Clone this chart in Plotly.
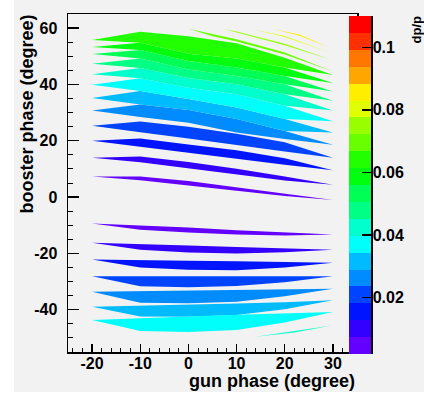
import plotly.graph_objects as go

# ---------------- data ----------------
Z_MIN, Z_MAX, N_LEVELS = 0.002, 0.110, 20

palette = ["#6300ff", "#3300ff", "#0014ff", "#0044ff", "#008bff",
           "#00bbff", "#00fffb", "#00ffcc", "#00ff85", "#00ff55",
           "#00ff0e", "#22ff00", "#69ff00", "#99ff00", "#e0ff00",
           "#ffee00", "#ffa700", "#ff7700", "#ff3000", "#ff0000"]

gun_nodes = [-20, -10, 0, 10, 20, 30]

# gun-phase nodes of every contour band
strip_gun = [gun_nodes] * 12 + [gun_nodes] * 7 + [
    [0, 5, 10, 20, 30],
    [7.3, 10, 20, 29.8],
    [13.3, 20, 29.5],
    [17.7, 23.2, 29.1],
    [13.9, 22, 29.8],
]

# upper edge (booster phase) of each band
strip_upper = [
    [7.3, 7.3, 5.7, 3.5, 1.3, -1.0],
    [14.0, 14.4, 12.5, 10.1, 7.3, 4.4],
    [20.0, 20.8, 18.7, 16.6, 13.8, 9.5],
    [25.3, 26.8, 25.0, 22.5, 19.5, 14.0],
    [30.7, 32.9, 30.9, 27.7, 23.5, 18.6],
    [35.2, 37.7, 34.8, 31.8, 27.7, 22.9],
    [39.9, 42.2, 38.8, 36.5, 32.4, 26.9],
    [43.6, 45.8, 42.3, 40.1, 36.5, 30.7],
    [47.3, 49.2, 45.3, 43.0, 40.1, 34.2],
    [50.8, 52.2, 48.3, 46.0, 43.0, 37.5],
    [53.3, 54.8, 50.9, 49.2, 46.0, 40.5],
    [55.8, 58.7, 57.1, 54.6, 49.5, 43.3],
    [-9.4, -10.1, -10.8, -11.8, -12.6, -13.3],
    [-16.2, -16.6, -17.2, -17.7, -18.2, -18.7],
    [-22.2, -22.5, -22.6, -22.8, -23.0, -23.3],
    [-28.1, -28.1, -28.1, -28.1, -28.1, -28.1],
    [-33.6, -33.4, -33.2, -33.0, -32.8, -32.5],
    [-38.9, -38.6, -38.2, -37.8, -37.3, -36.6],
    [-43.6, -42.9, -42.4, -41.8, -41.3, -40.8],
    [59.8, 57.9, 56.0, 51.3, 44.6],
    [59.7, 58.8, 54.4, 48.7],
    [59.6, 57.2, 51.2],
    [59.7, 57.6, 53.2],
    [-49.6, -47.6, -45.6],
]

# lower edge (booster phase) of each band
strip_lower = [
    [7.3, 6.0, 4.1, 2.2, 0.4, -1.0],
    [14.0, 12.4, 10.2, 8.0, 5.9, 4.4],
    [20.0, 17.9, 15.7, 13.6, 11.5, 9.5],
    [25.3, 23.0, 20.8, 18.6, 16.2, 14.0],
    [30.7, 28.4, 26.4, 22.9, 20.6, 18.6],
    [35.2, 32.9, 30.9, 27.7, 23.5, 22.9],
    [39.9, 37.7, 34.8, 31.8, 27.7, 26.9],
    [43.6, 42.2, 38.8, 36.5, 32.4, 30.7],
    [47.3, 45.8, 42.3, 40.1, 36.5, 34.2],
    [50.8, 49.2, 45.3, 43.0, 40.1, 37.5],
    [53.3, 52.2, 48.3, 46.0, 43.0, 40.5],
    [55.8, 54.8, 50.9, 49.2, 46.0, 43.3],
    [-9.4, -11.6, -12.6, -13.3, -13.6, -13.3],
    [-16.2, -18.7, -19.7, -20.0, -19.6, -18.7],
    [-22.2, -25.0, -25.8, -26.0, -25.0, -23.3],
    [-28.1, -31.7, -32.0, -31.6, -30.2, -28.1],
    [-33.6, -37.5, -37.7, -37.2, -35.2, -32.5],
    [-38.9, -42.4, -42.5, -41.9, -39.8, -36.6],
    [-43.6, -47.5, -47.9, -47.2, -44.5, -40.8],
    [59.8, 57.1, 55.2, 50.6, 44.6],
    [59.7, 58.3, 53.9, 48.7],
    [59.6, 56.8, 51.2],
    [59.7, 57.2, 53.2],
    [-49.6, -48.1, -45.6],
]

# dp/p value of each band
strip_dpp = [0.0047, 0.0101, 0.0155, 0.0209, 0.0263, 0.0317, 0.0371, 0.0425,
             0.0479, 0.0533, 0.0587, 0.0641,
             0.0047, 0.0101, 0.0155, 0.0209, 0.0263, 0.0317, 0.0371,
             0.0695, 0.0749, 0.0803, 0.0857, 0.0425]

x_tick_vals = [-20, -10, 0, 10, 20, 30]
x_tick_text = ["-20", "-10", "0", "10", "20", "30"]
y_tick_vals = [-40, -20, 0, 20, 40, 60]
y_tick_text = ["-40", "-20", "0", "20", "40", "60"]
z_tick_vals = [0.02, 0.04, 0.06, 0.08, 0.1]
z_tick_text = ["0.02", "0.04", "0.06", "0.08", "0.1"]

# ---------------- figure geometry (pixels) ----------------
W, H = 424, 397
ML, MR, MT, MB = 68, 53, 14, 43          # area holding frame + palette
PW, PH = W - ML - MR, H - MT - MB
FRAME_R, FRAME_B = 357, 352              # frame right / bottom edge
PAL_L, PAL_R, PAL_T, PAL_B = 349, 371, 16, 354


def fx(px):
    return (px - ML) / PW


def fy(py):
    return (H - MB - py) / PH


dz = (Z_MAX - Z_MIN) / N_LEVELS


def color_for(v):
    k = int((v - Z_MIN) / dz)
    return palette[max(0, min(N_LEVELS - 1, k))]


fig = go.Figure()
for gx, up, lo, v in zip(strip_gun, strip_upper, strip_lower, strip_dpp):
    c = color_for(v)
    fig.add_trace(go.Scatter(
        x=list(gx) + list(gx[::-1]),
        y=list(up) + list(lo[::-1]),
        mode="lines", fill="toself", fillcolor=c,
        line=dict(width=0, color=c),
        hoverinfo="skip", showlegend=False, xaxis="x", yaxis="y"))

# palette (colour scale) as its own little heat map
colorscale = []
for i, c in enumerate(palette):
    colorscale += [[i / N_LEVELS, c], [(i + 1) / N_LEVELS, c]]
level_edges = [Z_MIN + i * dz for i in range(N_LEVELS + 1)]
level_mid = [Z_MIN + (i + 0.5) * dz for i in range(N_LEVELS)]
fig.add_trace(go.Heatmap(
    x=[0, 1], y=level_edges, z=[[v] for v in level_mid],
    zmin=Z_MIN, zmax=Z_MAX, colorscale=colorscale, showscale=False,
    hoverinfo="skip", xaxis="x2", yaxis="y2"))

font_b = dict(family="Liberation Sans, Arial, sans-serif", color="black", weight="bold")

axis_common = dict(showgrid=False, zeroline=False, showline=True, linecolor="black",
                   linewidth=1.5, mirror=True, ticks="inside", tickcolor="black",
                   tickwidth=1.3, tickfont=dict(size=16, **font_b), tickmode="array",
                   automargin=False)

fig.update_layout(
    template="none",
    width=W, height=H, autosize=False,
    margin=dict(l=ML, r=MR, t=MT, b=MB, pad=0),
    paper_bgcolor="#f2f2f2", plot_bgcolor="#f2f2f2",
    xaxis=dict(domain=[0, fx(FRAME_R)], range=[-25, 35],
               tickvals=x_tick_vals, ticktext=x_tick_text, ticklen=8,
               ticklabelstandoff=-4,
               minor=dict(tickmode="linear", tick0=0, dtick=2, ticklen=4, ticks="inside",
                          tickcolor="black", tickwidth=1, showgrid=False),
               anchor="y", **axis_common),
    yaxis=dict(domain=[fy(FRAME_B), 1], range=[-55, 65],
               tickvals=y_tick_vals, ticktext=y_tick_text, ticklen=11,
               ticklabelstandoff=6,
               minor=dict(tickmode="linear", tick0=0, dtick=5, ticklen=5, ticks="inside",
                          tickcolor="black", tickwidth=1, showgrid=False),
               anchor="x", **axis_common),
    xaxis2=dict(domain=[fx(PAL_L), fx(PAL_R)], range=[0, 1], visible=False,
                anchor="y2", fixedrange=True, automargin=False),
    yaxis2=dict(domain=[fy(PAL_B), fy(PAL_T)], range=[Z_MIN, Z_MAX], side="right",
                anchor="x2", showgrid=False, zeroline=False, showline=True,
                linecolor="black", linewidth=1.5, ticks="inside", ticklen=9,
                tickwidth=1.5, tickcolor="black", tickmode="array",
                tickvals=z_tick_vals, ticktext=z_tick_text, ticklabelstandoff=-3,
                tickfont=dict(size=16, **font_b), fixedrange=True, automargin=False),
    shapes=[
        dict(type="rect", xref="paper", yref="paper", x0=fx(0), x1=fx(14),
             y0=fy(H), y1=fy(0), fillcolor="white", line=dict(width=0), layer="below"),
        dict(type="rect", xref="paper", yref="paper", x0=fx(0), x1=fx(W),
             y0=fy(H), y1=fy(392), fillcolor="white", line=dict(width=0), layer="below"),
    ],
    annotations=[
        dict(text="booster phase (degree)", textangle=-90, showarrow=False,
             xref="paper", yref="paper", x=fx(26), y=fy(13), xanchor="center",
             yanchor="top", font=dict(size=18, **font_b)),
        dict(text="gun phase (degree)", showarrow=False, xref="paper", yref="paper",
             x=fx(357), y=fy(381), xanchor="right", yanchor="middle",
             font=dict(size=18, **font_b)),
        dict(text="dp/p", textangle=-90, showarrow=False, xref="paper", yref="paper",
             x=fx(415.5), y=fy(30), xanchor="center", yanchor="middle",
             font=dict(size=13, **font_b)),
    ],
)

fig.write_html("out.html",
               config={"displayModeBar": False, "staticPlot": True},
               post_script="document.body.style.margin='0px';"
                           "document.body.style.padding='0px';")
